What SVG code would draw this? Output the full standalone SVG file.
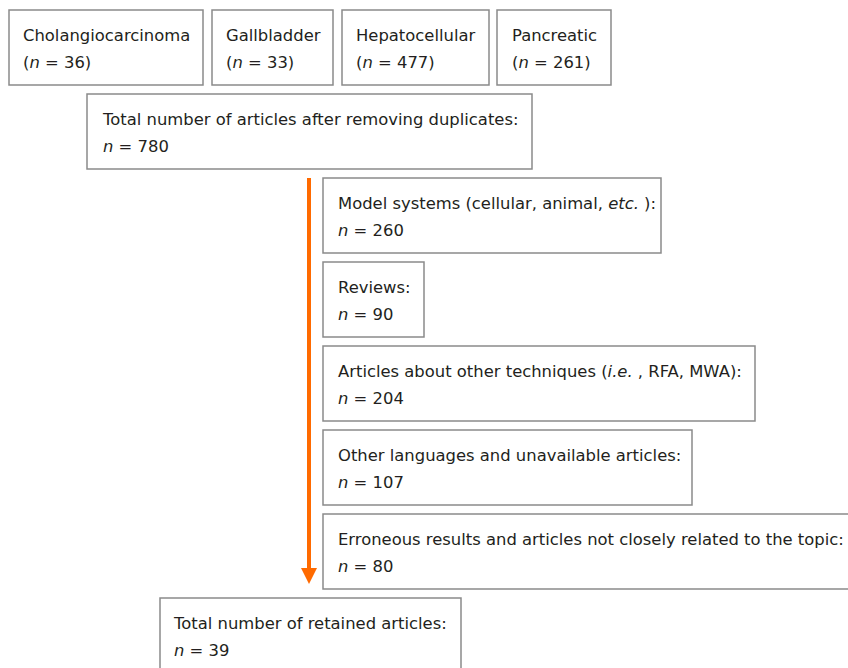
<svg xmlns="http://www.w3.org/2000/svg" width="848" height="668" viewBox="0 0 848 668">
<style>
.box{fill:#fff;stroke:#8a8a8a;stroke-width:1.5}
text{font-family:"DejaVu Sans",Verdana,sans-serif;font-size:16.4px;fill:#231f20}
.i{font-style:italic}
.arrow{stroke:#ff6a00;stroke-width:4;fill:none}
</style>
<defs>
<marker id="ah" markerWidth="4" markerHeight="4" refX="2.5" refY="2" orient="auto" markerUnits="strokeWidth">
<path d="M0,0 L4,2 L0,4 Z" fill="#ff6a00"/>
</marker>
</defs>
<rect width="848" height="668" fill="#fff"/>
<g id="n1"><rect class="box" x="9" y="10" width="194" height="75"/><text x="23" y="41">Cholangiocarcinoma</text><text x="23" y="68">(<tspan class="i">n</tspan> = 36)</text></g>
<g id="n2"><rect class="box" x="212" y="10" width="121" height="75"/><text x="226" y="41">Gallbladder</text><text x="226" y="68">(<tspan class="i">n</tspan> = 33)</text></g>
<g id="n3"><rect class="box" x="342" y="10" width="147" height="75"/><text x="356" y="41">Hepatocellular</text><text x="356" y="68">(<tspan class="i">n</tspan> = 477)</text></g>
<g id="n4"><rect class="box" x="497" y="10" width="114" height="75"/><text x="512" y="41">Pancreatic</text><text x="512" y="68">(<tspan class="i">n</tspan> = 261)</text></g>
<g id="n5"><rect class="box" x="87" y="94" width="445" height="75"/><text x="103" y="125">Total number of articles after removing duplicates:</text><text x="103" y="152"><tspan class="i">n</tspan> = 780</text></g>
<g id="connectors"><line class="arrow" x1="309" y1="178" x2="309" y2="578" marker-end="url(#ah)"/></g>
<g id="n6"><rect class="box" x="323" y="178" width="338" height="75"/><text x="338" y="209">Model systems (cellular, animal, <tspan class="i">etc.</tspan> ):</text><text x="338" y="236"><tspan class="i">n</tspan> = 260</text></g>
<g id="n7"><rect class="box" x="323" y="262" width="101" height="75"/><text x="338" y="293">Reviews:</text><text x="338" y="320"><tspan class="i">n</tspan> = 90</text></g>
<g id="n8"><rect class="box" x="323" y="346" width="432" height="75"/><text x="338" y="377">Articles about other techniques (<tspan class="i">i.e.</tspan> , RFA, MWA):</text><text x="338" y="404"><tspan class="i">n</tspan> = 204</text></g>
<g id="n9"><rect class="box" x="323" y="430" width="369" height="75"/><text x="338" y="461">Other languages and unavailable articles:</text><text x="338" y="488"><tspan class="i">n</tspan> = 107</text></g>
<g id="n10"><rect class="box" x="323" y="514" width="540" height="75"/><text x="338" y="545">Erroneous results and articles not closely related to the topic:</text><text x="338" y="572"><tspan class="i">n</tspan> = 80</text></g>
<g id="n11"><rect class="box" x="160" y="598" width="301" height="90"/><text x="174" y="629">Total number of retained articles:</text><text x="174" y="656"><tspan class="i">n</tspan> = 39</text></g>
</svg>
